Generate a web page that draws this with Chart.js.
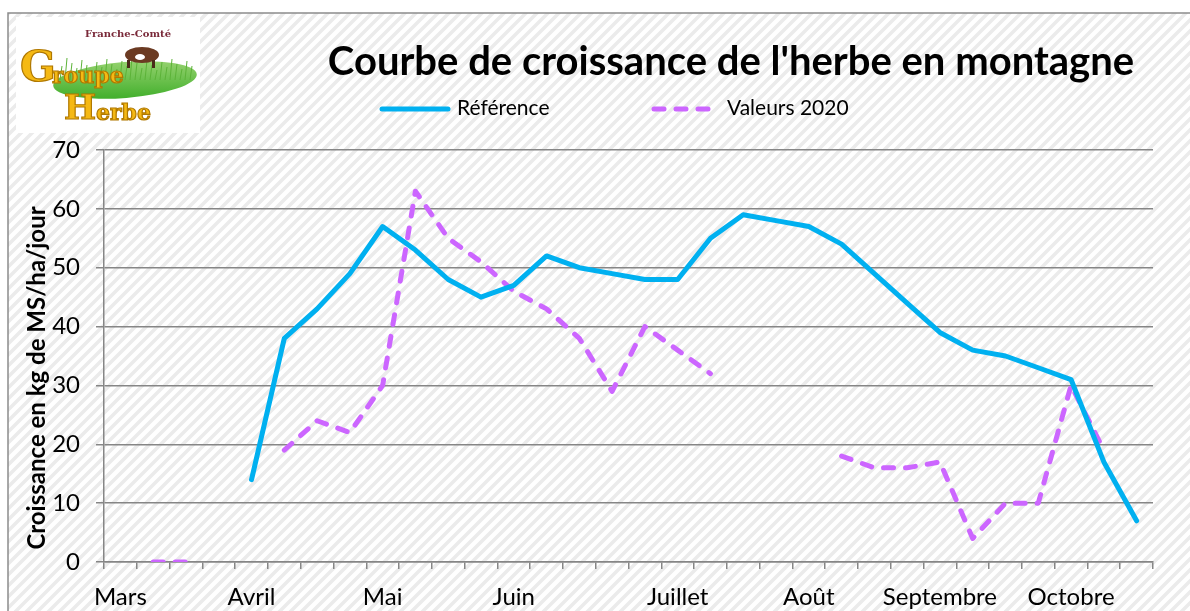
<!DOCTYPE html>
<html>
<head>
<meta charset="utf-8">
<script src="https://cdn.jsdelivr.net/npm/chart.js@4"></script>
<style>
  body { margin: 0; background: #fff; }
  #wrap { width: 1190px; height: 611px; }
</style>
</head>
<body>
<div id="wrap"><canvas id="chart"></canvas></div>
<script>
// weekly categories, month name on the first week
const weeks = ['Mars','','','','Avril','','','','Mai','','','','Juin','','','','','Juillet','','','','Août','','','','Septembre','','','','Octobre','',''];
const reference = [null,null,null,null,14,38,43,49,57,53,48,45,47,52,50,49,48,48,55,59,58,57,54,49,44,39,36,35,33,31,17,7];
const valeurs2020 = [null,0,0,null,null,19,24,22,30,63,55,51,46,43,38,29,40,36,32,null,null,null,18,16,16,17,4,10,10,30,19,null];
const yTicks = [0,10,20,30,40,50,60,70];

const BLUE = '#00b0f0';
const PURPLE = '#cc66ff';
const GRID = '#868686';

function makeHatch(ctx) {
  let c = document.createElement('canvas');
  c.width = 11; c.height = 11;
  let g = c.getContext('2d');
  g.fillStyle = '#ffffff';
  g.fillRect(0, 0, 11, 11);
  g.strokeStyle = '#ebebeb';
  g.lineWidth = 3.5;
  g.beginPath();
  g.moveTo(-2, 13); g.lineTo(13, -2);
  g.moveTo(-13, 13); g.lineTo(2, -2);
  g.moveTo(9, 13); g.lineTo(24, -2);
  g.stroke();
  return ctx.createPattern(c, 'repeat');
}

function drawLogo(ctx) {
  ctx.save();
  ctx.fillStyle = '#ffffff';
  ctx.fillRect(16, 17, 184, 116);
  // grass
  let grad = ctx.createLinearGradient(0, 45, 0, 100);
  grad.addColorStop(0, '#b8e08a');
  grad.addColorStop(1, '#3fae2a');
  ctx.fillStyle = grad;
  ctx.beginPath();
  ctx.ellipse(125, 80, 72, 18, -0.08, 0, Math.PI * 2);
  ctx.fill();
  ctx.strokeStyle = '#5cb338';
  ctx.lineWidth = 1;
  for (let x = 60; x < 195; x += 5) {
    ctx.beginPath();
    ctx.moveTo(x, 80);
    ctx.lineTo(x + 2, 58 + (x % 13));
    ctx.stroke();
  }
  // cow
  ctx.fillStyle = '#6b3a22';
  ctx.beginPath();
  ctx.ellipse(142, 55, 17, 8, 0, 0, Math.PI * 2);
  ctx.fill();
  ctx.fillStyle = '#ffffff';
  ctx.beginPath();
  ctx.ellipse(140, 57, 5, 3, 0, 0, Math.PI * 2);
  ctx.fill();
  ctx.fillStyle = '#4a2a18';
  ctx.fillRect(127, 60, 3, 8);
  ctx.fillRect(152, 60, 3, 8);
  // texts
  ctx.fillStyle = '#7a2a3a';
  ctx.font = 'bold 10px "DejaVu Serif"';
  ctx.textAlign = 'center';
  ctx.textBaseline = 'middle';
  ctx.fillText('Franche-Comté', 128, 34);
  ctx.lineWidth = 1.2;
  ctx.strokeStyle = '#b07800';
  ctx.fillStyle = '#f5b914';
  ctx.font = 'bold 42px "DejaVu Serif"';
  ctx.textAlign = 'left';
  ctx.fillText('G', 20, 70);
  ctx.strokeText('G', 20, 70);
  ctx.font = 'bold 22px "DejaVu Serif"';
  ctx.fillText('roupe', 52, 77);
  ctx.strokeText('roupe', 52, 77);
  ctx.font = 'bold 34px "DejaVu Serif"';
  ctx.fillText('H', 64, 110);
  ctx.strokeText('H', 64, 110);
  ctx.font = 'bold 22px "DejaVu Serif"';
  ctx.fillText('erbe', 96, 114);
  ctx.strokeText('erbe', 96, 114);
  ctx.restore();
}

const decor = {
  id: 'decor',
  beforeDraw(chart) {
    let ctx = chart.ctx;
    ctx.save();
    ctx.fillStyle = '#ffffff';
    ctx.fillRect(0, 0, chart.width, chart.height);
    ctx.fillStyle = makeHatch(ctx);
    ctx.fillRect(8, 13, chart.width - 8, chart.height - 13);
    ctx.strokeStyle = '#8c8c8c';
    ctx.lineWidth = 1.5;
    ctx.beginPath();
    ctx.moveTo(8, chart.height);
    ctx.lineTo(8, 13);
    ctx.lineTo(chart.width, 13);
    ctx.stroke();
    ctx.restore();
    drawLogo(ctx);
  },
  afterDraw(chart) {
    let ctx = chart.ctx;
    ctx.save();
    ctx.fillStyle = '#000';
    ctx.textBaseline = 'middle';
    // title
    ctx.font = 'bold 40px Lato';
    ctx.textAlign = 'center';
    ctx.fillText("Courbe de croissance de l'herbe en montagne", 731, 62);
    // legend
    ctx.lineWidth = 5;
    ctx.lineCap = 'round';
    ctx.strokeStyle = BLUE;
    ctx.beginPath();
    ctx.moveTo(382, 109); ctx.lineTo(448, 109);
    ctx.stroke();
    ctx.strokeStyle = PURPLE;
    ctx.setLineDash([10, 12]);
    ctx.beginPath();
    ctx.moveTo(654, 109); ctx.lineTo(715, 109);
    ctx.stroke();
    ctx.setLineDash([]);
    ctx.font = '21px Lato';
    ctx.textAlign = 'left';
    ctx.fillText('Référence', 457, 108);
    ctx.fillText('Valeurs 2020', 727, 108);
    // y axis title
    ctx.translate(37, 378);
    ctx.rotate(-Math.PI / 2);
    ctx.font = 'bold 24px Lato';
    ctx.textAlign = 'center';
    ctx.fillText('Croissance en kg de MS/ha/jour', 0, 0);
    ctx.restore();
  }
};

new Chart(document.getElementById('chart'), {
  type: 'line',
  data: {
    labels: weeks,
    datasets: [
      {
        label: 'Référence',
        data: reference,
        borderColor: BLUE,
        borderWidth: 5,
        borderCapStyle: 'round',
        borderJoinStyle: 'round',
        pointRadius: 0,
        tension: 0,
        spanGaps: false
      },
      {
        label: 'Valeurs 2020',
        data: valeurs2020,
        borderColor: PURPLE,
        borderWidth: 5,
        borderDash: [10, 12],
        borderCapStyle: 'round',
        borderJoinStyle: 'round',
        pointRadius: 0,
        tension: 0,
        spanGaps: false
      }
    ]
  },
  options: {
    responsive: true,
    maintainAspectRatio: false,
    animation: false,
    layout: { padding: { left: 0, top: 150, right: 37, bottom: 0 } },
    plugins: {
      legend: { display: false },
      title: { display: false },
      tooltip: { enabled: false }
    },
    scales: {
      x: {
        offset: true,
        afterFit(s) { s.height = 49; },
        grid: {
          offset: true,
          drawOnChartArea: false,
          drawTicks: true,
          tickLength: 7,
          color: GRID,
          lineWidth: 1.5
        },
        border: { display: true, color: GRID, width: 1.5 },
        ticks: {
          autoSkip: false,
          maxRotation: 0,
          padding: 14,
          color: '#000',
          font: { family: 'Lato', size: 24 }
        }
      },
      y: {
        min: 0,
        max: 70,
        afterFit(s) { s.width = 104; },
        afterBuildTicks(s) { s.ticks = yTicks.map(v => ({ value: v })); },
        grid: {
          color: GRID,
          lineWidth: 1.5,
          drawTicks: true,
          tickLength: 8,
          tickColor: GRID
        },
        border: { display: true, color: GRID, width: 1.5 },
        ticks: {
          padding: 16,
          color: '#000',
          font: { family: 'Lato', size: 24 }
        }
      }
    }
  },
  plugins: [decor]
});
</script>
</body>
</html>
